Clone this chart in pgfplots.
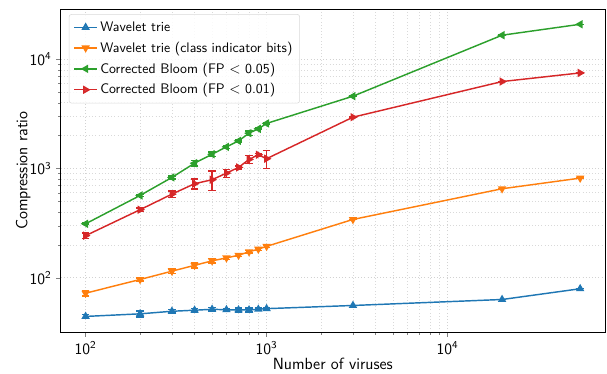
\documentclass[border=0pt]{standalone}
\usepackage{pgfplots}
\pgfplotsset{compat=1.18}
\definecolor{tabblue}{HTML}{1F77B4}
\definecolor{taborange}{HTML}{FF7F0E}
\definecolor{tabgreen}{HTML}{2CA02C}
\definecolor{tabred}{HTML}{D62728}
\begin{document}
\begin{tikzpicture}
\path (-46pt,-31pt) rectangle (414.5pt,252pt);
\begin{axis}[
  at={(0,0)}, anchor=south west,
  scale only axis, width=413pt, height=245pt,
  xmode=log, ymode=log,
  xmin=72.8, xmax=74100, ymin=31.8, ymax=28700,
  xtick={100,1000,10000}, xticklabels={$\mathsf{10^{2}}$,$\mathsf{10^{3}}$,$\mathsf{10^{4}}$},
  ytick={100,1000,10000}, yticklabels={$\mathsf{10^{2}}$,$\mathsf{10^{3}}$,$\mathsf{10^{4}}$},
  tick label style={font=\fontsize{11.5}{13}\selectfont},
  label style={font=\sffamily\fontsize{12.3}{14}\selectfont},
  xlabel={Number of viruses}, ylabel={Compression ratio},
  xlabel shift=-4pt, ylabel shift=-7.5pt,
  tick align=outside, tick pos=left,
  major tick length=3.5pt, minor tick length=2pt,
  grid=both,
  major grid style={gray!35, dotted, line width=0.6pt},
  minor grid style={gray!30, dotted, line width=0.5pt},
  axis line style={line width=0.8pt},
  legend style={at={(0.015,0.985)}, anchor=north west, font=\sffamily\fontsize{10.5}{12}\selectfont,
    draw=gray!30, rounded corners=2pt, fill=white, fill opacity=0.85, text opacity=1,
    row sep=2.5pt, inner sep=3.5pt},
  legend cell align=left,
  every axis plot/.append style={line width=1.1pt, mark size=2.6pt},
  error bars/error bar style={line width=1.1pt},
  error bars/error mark options={rotate=90, mark size=2.8pt, line width=1.1pt},
]
\addlegendimage{color=tabblue, line width=1.1pt, mark=triangle*, mark size=2.6pt}
\addlegendentry{Wavelet trie}
\addlegendimage{color=taborange, line width=1.1pt, mark=triangle*, mark size=2.6pt, mark options={rotate=180}}
\addlegendentry{Wavelet trie (class indicator bits)}
\addlegendimage{color=tabgreen, line width=1.1pt, mark=triangle*, mark size=2.6pt, mark options={rotate=90}}
\addlegendentry{Corrected Bloom (FP $<$ 0.05)}
\addlegendimage{color=tabred, line width=1.1pt, mark=triangle*, mark size=2.6pt, mark options={rotate=-90}}
\addlegendentry{Corrected Bloom (FP $<$ 0.01)}
\addplot[forget plot, color=tabblue, mark=triangle*, error bars/.cd, y dir=both, y explicit] table[x=x, y=y, y error=e] {
x y e
100 44.3 2
200 46.8 3
300 49.4 2
400 50.5 2
500 51.5 2
600 51 1.5
700 50.8 2
800 50.8 2
900 51.5 1.5
1000 52.2 1.5
3000 55.8 0
20000 63.3 0
54000 79.4 0
};
\addplot[forget plot, color=taborange, mark=triangle*, mark options={rotate=180}, error bars/.cd, y dir=both, y explicit] table[x=x, y=y, y error=e] {
x y e
100 72.3 4
200 96.5 3
300 115 5
400 130 7
500 143 7
600 152 5
700 161 5
800 173 5
900 183 5
1000 194 4
3000 342 0
20000 653 0
54000 817 0
};
\addplot[forget plot, color=tabgreen, mark=triangle*, mark options={rotate=90}, error bars/.cd, y dir=both, y explicit] table[x=x, y=y, y error=e] {
x y e
100 312 6
200 567 10
300 829 25
400 1119 60
500 1352 60
600 1578 50
700 1791 40
800 2107 90
900 2307 40
1000 2586 40
3000 4590 0
20000 16600 0
54000 20900 0
};
\addplot[forget plot, color=tabred, mark=triangle*, mark options={rotate=-90}, error bars/.cd, y dir=both, y explicit] table[x=x, y=y, y error=e] {
x y e
100 243 15
200 420 15
300 583 40
400 726 75
500 790 158
600 908 77
700 1024 30
800 1211 105
900 1337 30
1000 1230 234
3000 2950 0
20000 6250 0
54000 7500 0
};
\end{axis}
\end{tikzpicture}
\end{document}
